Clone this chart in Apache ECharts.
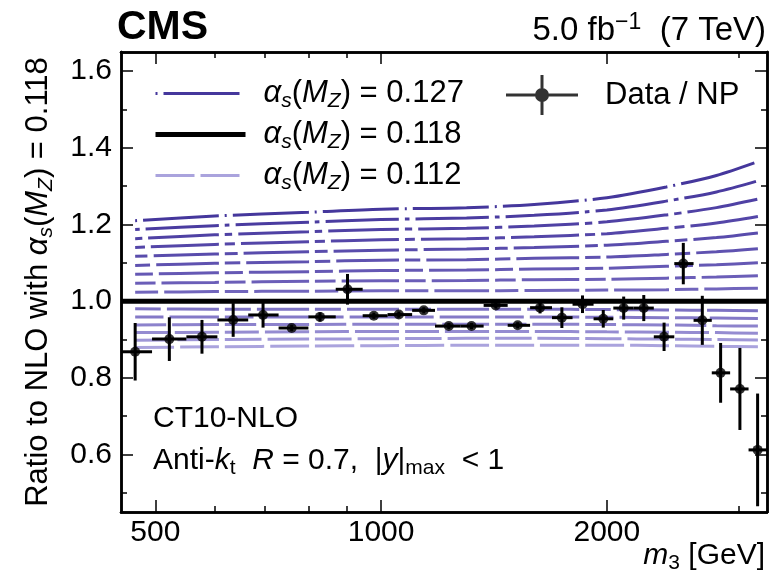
<!DOCTYPE html>
<html><head><meta charset="utf-8">
<script src="https://cdn.jsdelivr.net/npm/echarts@6/dist/echarts.min.js"></script>
<style>html,body{margin:0;padding:0;background:#fff}#c{width:769px;height:579px}</style>
</head><body><div id="c"></div>
<script>
// ---------------- data ----------------
const binCenters = [470,522,577,635,696,760,829,902,978,1056,1140,1231,1320,1422,1521,1629,1742,1856,1978,2106,2240,2384,2529,2681,2836,3009,3177];
const binEdges = [450,495,550,605,665,730,800,870,945,1020,1100,1180,1275,1370,1475,1580,1690,1800,1920,2040,2170,2310,2460,2610,2760,2920,3090,3270];
const dataRatio = [0.868,0.901,0.907,0.951,0.964,0.930,0.959,1.031,0.962,0.965,0.976,0.935,0.935,0.989,0.937,0.983,0.957,0.992,0.954,0.982,0.982,0.907,1.098,0.950,0.813,0.771,0.612];
const dataErr = [0.075,0.057,0.044,0.044,0.033,0.008,0.012,0.040,0.008,0.008,0.008,0.008,0.008,0.008,0.008,0.015,0.027,0.023,0.023,0.030,0.034,0.037,0.054,0.064,0.078,0.107,0.147];

const theoryX = [470,600,800,1000,1300,1600,2000,2400,2800,3180];
const as127 = [1.210,1.222,1.232,1.240,1.244,1.252,1.270,1.298,1.328,1.364];
const as126 = [1.187,1.197,1.206,1.213,1.217,1.224,1.238,1.261,1.285,1.314];
const as125 = [1.163,1.173,1.181,1.187,1.190,1.196,1.207,1.225,1.244,1.266];
const as124 = [1.140,1.148,1.155,1.160,1.163,1.168,1.176,1.190,1.204,1.221];
const as123 = [1.117,1.123,1.129,1.133,1.136,1.140,1.146,1.156,1.166,1.178];
const as122 = [1.093,1.099,1.103,1.107,1.108,1.112,1.115,1.122,1.129,1.137];
const as121 = [1.070,1.074,1.077,1.080,1.081,1.084,1.086,1.091,1.095,1.100];
const as120 = [1.047,1.049,1.052,1.053,1.054,1.056,1.057,1.060,1.063,1.066];
const as119 = [1.023,1.025,1.026,1.027,1.027,1.028,1.029,1.030,1.032,1.034];
const as117 = [0.980,0.979,0.979,0.979,0.979,0.979,0.978,0.977,0.976,0.975];
const as116 = [0.959,0.959,0.959,0.959,0.959,0.959,0.958,0.957,0.956,0.955];
const as115 = [0.938,0.939,0.939,0.940,0.940,0.940,0.939,0.938,0.936,0.935];
const as114 = [0.918,0.919,0.920,0.921,0.921,0.921,0.920,0.919,0.918,0.916];
const as113 = [0.898,0.900,0.901,0.902,0.903,0.903,0.902,0.901,0.900,0.899];
const as112 = [0.879,0.881,0.883,0.884,0.885,0.885,0.885,0.884,0.882,0.881];
const refX = [450,3270];
const as118 = [1.0,1.0];

const xLabelTicks = [500,1000,2000];
const xMinorTicks = [600,700,800,900,3000];
const yLabelTicks = [0.6,0.8,1.0,1.2,1.4,1.6];
const yMinorTicks = [0.5,0.7,0.9,1.1,1.3,1.5];

// ---------------- styles ----------------
const curveNames = ['0.127','0.126','0.125','0.124','0.123','0.122','0.121','0.120','0.119','0.117','0.116','0.115','0.114','0.113','0.112'];
const curveVals = [as127,as126,as125,as124,as123,as122,as121,as120,as119,as117,as116,as115,as114,as113,as112];
const curveColors = ['#45379c','#4a3ca0','#4f41a4','#5446a8','#594cac','#5f52b0','#6558b4','#6b5eb8','#7165bc','#7d72c3','#8479c7','#8c82cc','#958cd1','#9f97d7','#aaa3dd'];
const curveDash = curveColors.map((c,k)=>{const s=2+37*k/14; return [s,6,78-s,6];});

const F = '"Liberation Sans", Arial, sans-serif';
const L = v => Math.log10(v);
const xMin = L(450), xMax = L(3270);
function rich(fs){
  const sfs = Math.round(fs*0.69), lh = Math.round(fs*1.2);
  return {
    r:{fontSize:fs,lineHeight:lh,fontFamily:F,color:'#000'},
    i:{fontSize:fs,lineHeight:lh,fontFamily:F,color:'#000',fontStyle:'italic'},
    sub:{fontSize:sfs,lineHeight:sfs,fontFamily:F,color:'#000',fontStyle:'italic',verticalAlign:'bottom'},
    subr:{fontSize:sfs,lineHeight:sfs,fontFamily:F,color:'#000',verticalAlign:'bottom'},
    sup:{fontSize:sfs,lineHeight:sfs,fontFamily:F,color:'#000',verticalAlign:'top'}
  };
}
function xAx(pos, ticks, len, labels){
  return {type:'value', position:pos, min:xMin, max:xMax,
    axisLine:{show:true,onZero:false,lineStyle:{color:'#000',width:2.5}},
    axisTick:{show:true,inside:true,length:len,customValues:ticks.map(L),lineStyle:{color:'#000',width:1.5}},
    axisLabel: labels ? {show:true,customValues:ticks.map(L),formatter:v=>String(Math.round(Math.pow(10,v))),fontSize:30,fontFamily:F,color:'#000',margin:6} : {show:false},
    splitLine:{show:false}};
}
function yAx(pos, ticks, len, labels){
  return {type:'value', position:pos, min:0.45, max:1.65,
    axisLine:{show:true,onZero:false,lineStyle:{color:'#000',width:2.5}},
    axisTick:{show:true,inside:true,length:len,customValues:ticks,lineStyle:{color:'#000',width:1.5}},
    axisLabel: labels ? {show:true,customValues:ticks,formatter:v=>v.toFixed(1),fontSize:30,fontFamily:F,color:'#000',margin:9} : {show:false},
    splitLine:{show:false}};
}

const series = [];
curveNames.forEach((n,k)=>{
  series.push({type:'line',name:n,data:theoryX.map((m,i)=>[L(m),curveVals[k][i]]),symbol:'none',smooth:0.3,
    itemStyle:{color:curveColors[k]},lineStyle:{color:curveColors[k],width:3,type:curveDash[k]},z:2,silent:true});
});
series.push({type:'line',name:'0.118',data:refX.map((m,i)=>[L(m),as118[i]]),symbol:'none',itemStyle:{color:'#000'},lineStyle:{color:'#000',width:5},z:3,silent:true});
series.push({type:'custom',name:'err',z:4,silent:true,
  data:binCenters.map((c,i)=>[L(c),dataRatio[i],dataErr[i],L(binEdges[i]),L(binEdges[i+1])]),
  renderItem:(p,api)=>{
    const x=api.value(0),y=api.value(1),e=api.value(2),lo=api.value(3),hi=api.value(4);
    const a=api.coord([x,y+e]),b=api.coord([x,y-e]),c=api.coord([lo,y]),d=api.coord([hi,y]);
    return {type:'group',children:[
      {type:'line',shape:{x1:a[0],y1:a[1],x2:b[0],y2:b[1]},style:{stroke:'#000',lineWidth:3}},
      {type:'line',shape:{x1:c[0],y1:c[1],x2:d[0],y2:d[1]},style:{stroke:'#000',lineWidth:3}}]};
  }});
series.push({type:'scatter',name:'Data / NP',data:binCenters.map((c,i)=>[L(c),dataRatio[i]]),symbol:'circle',symbolSize:10,itemStyle:{color:'#000'},z:5,silent:true});

const R31 = rich(31);
const chart = echarts.init(document.getElementById('c'),null,{renderer:'canvas'});
chart.setOption({
  animation:false,
  grid:{left:121,right:2,top:52,bottom:67,containLabel:false},
  xAxis:[xAx('bottom',xLabelTicks,12,true),xAx('bottom',xMinorTicks,6,false),xAx('top',xLabelTicks,12,false),xAx('top',xMinorTicks,6,false)],
  yAxis:[Object.assign(yAx('left',yLabelTicks,12,true),{
      name:'{r|Ratio to NLO with }{i|α}{sub|s}{r|(}{i|M}{sub|Z}{r|) = 0.118}',
      nameLocation:'middle',nameRotate:90,nameGap:64,nameTextStyle:{rich:rich(31)}}),
    yAx('left',yMinorTicks,6,false),yAx('right',yLabelTicks,12,false),yAx('right',yMinorTicks,6,false)],
  legend:[{data:[
        {name:'0.127',lineStyle:{color:curveColors[0],width:3,type:curveDash[0]}},
        {name:'0.118',lineStyle:{color:'#000',width:5,type:'solid'}},
        {name:'0.112',lineStyle:{color:curveColors[14],width:3,type:curveDash[14]}}],
      orient:'vertical',left:148,top:73,itemWidth:90,itemHeight:30,itemGap:7,selectedMode:false,
      itemStyle:{opacity:0},
      formatter:n=>'{i|α}{sub|s}{r|(}{i|M}{sub|Z}{r|) = '+n+'}',textStyle:{rich:R31,padding:[0,0,0,13]}},
    {data:[{name:'Data / NP',icon:'path://M0,18.5 H72 V21.5 H0 Z M34.5,0 H37.5 V40 H34.5 Z M29,20 A7,7 0 1,1 43,20 A7,7 0 1,1 29,20 Z'}],
      left:501,top:70,itemWidth:72,itemHeight:40,selectedMode:false,
      formatter:n=>'{r|'+n+'}',textStyle:{rich:R31,padding:[0,0,0,22]}}],
  graphic:[
    {type:'text',left:117,top:7,style:{text:'CMS',font:'bold 41px '+F,fill:'#000'}},
    {type:'text',right:3,top:11,style:{text:'{r|5.0 fb}{sup|−1}{r|  (7 TeV)}',rich:rich(33)}},
    {type:'text',right:4,top:541,style:{text:'{i|m}{subr|3}{r| [GeV]}',rich:rich(30)}},
    {type:'text',left:153,top:404,style:{text:'{r|CT10-NLO}',rich:rich(30)}},
    {type:'text',left:153,top:446,style:{text:'{r|Anti-}{i|k}{subr|t}{r|  }{i|R}{r| = 0.7,  |}{i|y}{r||}{subr|max}{r|  < 1}',rich:rich(30)}}
  ],
  series
});
</script></body></html>
